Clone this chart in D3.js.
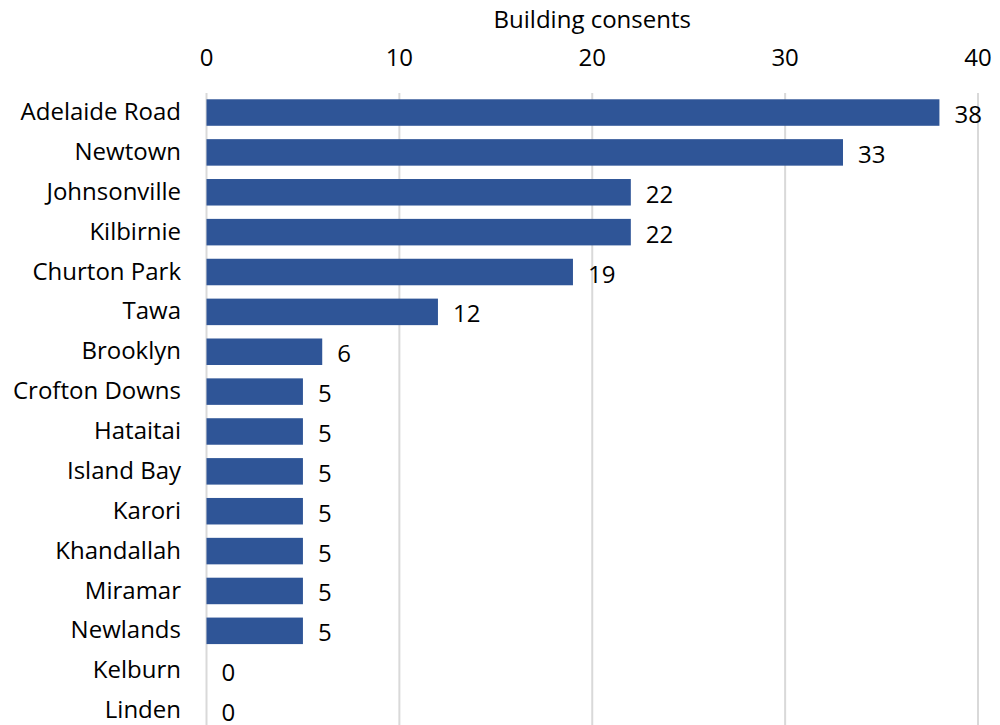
<!DOCTYPE html>
<html><head><meta charset="utf-8">
<script src="https://cdn.jsdelivr.net/npm/d3@7"></script>
<style>body{margin:0;background:#fff;}svg{display:block;font-family:"Open Sans",sans-serif;}</style>
</head><body>
<svg id="c" width="1000" height="725"></svg>
<script>
const categories = ["Adelaide Road","Newtown","Johnsonville","Kilbirnie","Churton Park","Tawa","Brooklyn","Crofton Downs","Hataitai","Island Bay","Karori","Khandallah","Miramar","Newlands","Kelburn","Linden"];
const values = [38,33,22,22,19,12,6,5,5,5,5,5,5,5,0,0];
const tickValues = [0,10,20,30,40];
const axisTitle = "Building consents";

const svg = d3.select("#c");
const x = d3.scaleLinear().domain([0,40]).range([206.5,978]);
const y = d3.scaleBand().domain(categories).range([92.6,730.5]).paddingInner(0.335).paddingOuter(0.1675);

// gridlines
svg.append("g").selectAll("line").data(tickValues).join("line")
  .attr("x1",d=>x(d)).attr("x2",d=>x(d)).attr("y1",93).attr("y2",725)
  .attr("stroke","#d9d9d9").attr("stroke-width",2);

// tick labels
svg.append("g").selectAll("text").data(tickValues).join("text")
  .attr("x",d=>x(d)).attr("y",66).attr("text-anchor","middle")
  .attr("font-size",24).attr("fill","#000").text(d=>d);

svg.append("text").attr("x",(x(0)+x(40))/2).attr("y",28).attr("text-anchor","middle")
  .attr("font-size",24).attr("fill","#000").text(axisTitle);

// bars
svg.append("g").selectAll("rect").data(categories).join("rect")
  .attr("x",x(0)).attr("y",d=>y(d)).attr("height",y.bandwidth())
  .attr("width",(d,i)=>x(values[i])-x(0)).attr("fill","#2f5597");

// category labels
svg.append("g").selectAll("text").data(categories).join("text")
  .attr("x",181).attr("y",d=>y(d)+y.bandwidth()/2+7.6)
  .attr("text-anchor","end").attr("font-size",24).attr("fill","#000").text(d=>d);

// value labels
svg.append("g").selectAll("text").data(categories).join("text")
  .attr("x",(d,i)=>x(values[i])+15).attr("y",d=>y(d)+y.bandwidth()/2+10.5)
  .attr("font-size",24).attr("fill","#000").text((d,i)=>values[i]);
</script>
</body></html>
